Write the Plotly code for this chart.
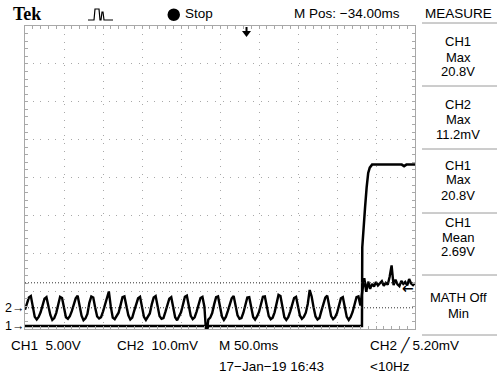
import numpy as np
import plotly.graph_objects as go

# ---------------- data ----------------
time_per_div_ms = 50.0
n_hdiv, n_vdiv = 10, 8
ch1_volts_per_div = 5.0
ch2_mv_per_div = 10.0
ch1_offset_div = -3.92
ch2_offset_div = -3.44
trigger_level_mv = 5.20
trigger_pos_ms = 284.0
ref_line_divs = [-2.78, -3.44]

ch1_time_ms = [0, 120, 233, 234, 235, 300, 432, 432.4, 434, 436, 438, 440, 442, 445, 470, 483, 486, 489, 500]
ch1_volts = [0.0, 0.0, 0.0, -0.3, 0.0, 0.0, 0.0, 10.4, 13.4, 15.7, 18.3, 20.2, 20.9, 21.3, 21.3, 21.3, 21.1, 21.3, 21.3]

ch2_sample_ms = 2.5
ch2_mv = [
    -0.5, 1.2, 2.7, 3.1, 0.4, -2.4, -3.1, -2.4,
    -1.2, 0.9, 2.4, 2.8, 0.1, -1.9, -3.2, -2.7,
    -1.4, 1.1, 2.9, 2.6, -0.2, -2.5, -2.9, -2.2,
    -0.9, 0.6, 2.5, 3.2, 0.6, -2.1, -3.3, -2.8,
    -1.6, 1.3, 3.0, 2.7, 0.0, -2.3, -2.8, -2.5,
    -1.0, 1.0, 2.6, 4.3, 0.3, -2.6, -3.0, -2.3,
    -1.3, 0.7, 2.8, 3.0, 0.5, -2.0, -3.1, -2.6,
    -0.8, 1.2, 2.5, 2.9, -0.1, -2.4, -3.2, -2.3,
    -1.5, 0.9, 2.7, 3.1, 0.2, -2.2, -2.9, -2.7,
    -1.1, 1.0, 2.4, 2.8, 0.4, -2.5, -3.3, -2.4,
    -1.2, 0.8, 2.9, 3.2, 0.1, -2.1, -3.0, -2.5,
    -1.0, 1.1, 2.6, 2.9, 0.3, -7.6, -3.1, -2.6,
    -1.4, 0.9, 2.8, 3.0, 0.0, -2.3, -3.2, -2.4,
    -0.9, 1.2, 2.5, 3.1, 0.5, -2.0, -2.9, -2.7,
    -1.3, 0.7, 2.7, 2.8, 0.2, -2.4, -3.1, -2.3,
    -1.1, 1.0, 2.9, 3.0, -0.1, -2.2, -3.0, -2.6,
    -1.2, 1.3, 3.4, 3.1, 0.3, -2.5, -3.2, -2.5,
    -1.0, 0.8, 2.6, 2.9, 0.4, -2.1, -2.9, -2.4,
    -1.3, 1.0, 4.7, 3.0, 0.1, -2.3, -3.1, -2.7,
    -0.8, 1.1, 2.7, 3.2, 0.2, -2.2, -3.0, -2.5,
    -1.4, 0.9, 2.5, 2.8, 0.5, -2.4, -3.2, -2.4,
    -1.1, 1.2, 2.8, 3.0, 0.6,
    4.5, 7.8, 4.2, 6.9, 5.0, 6.3, 5.6, 6.8, 5.9, 6.4, 7.0, 5.8, 6.6, 6.1,
    8.2, 11.2, 6.0, 7.4, 6.2, 5.7, 7.1, 6.3, 6.8, 5.9, 7.6, 6.4, 6.0, 6.5,
]

measure_labels = [
    ["CH1", "Max", "20.8V"],
    ["CH2", "Max", "11.2mV"],
    ["CH1", "Max", "20.8V"],
    ["CH1", "Mean", "2.69V"],
    ["MATH Off", "Min"],
]

# ---------------- geometry (page pixels) ----------------
W, H = 497, 381
PL, PR, PT, PB = 25, 415, 26, 329


def px(x):
    return (x - PL) / (PR - PL)


def py(y):
    return (PB - y) / (PB - PT)


FONT = "Liberation Sans, Arial, sans-serif"
GRID = "#a8a8a8"

ch1_y = np.array(ch1_volts) / ch1_volts_per_div + ch1_offset_div
ch2_t = np.arange(len(ch2_mv)) * ch2_sample_ms
ch2_y = np.array(ch2_mv) / ch2_mv_per_div + ch2_offset_div

fig = go.Figure()
fig.add_trace(go.Scatter(x=ch2_t, y=ch2_y, mode="lines",
                         line=dict(color="black", width=2.4), hoverinfo="skip"))
fig.add_trace(go.Scatter(x=ch1_time_ms, y=ch1_y, mode="lines",
                         line=dict(color="black", width=2.5), hoverinfo="skip"))

xmax = time_per_div_ms * n_hdiv
fig.update_xaxes(range=[0, xmax], showgrid=True, gridcolor=GRID, griddash="1px,6.8px",
                 dtick=time_per_div_ms, tick0=0, zeroline=False, showticklabels=False,
                 showline=True, linecolor=GRID, linewidth=1, mirror="ticks",
                 ticks="inside", ticklen=3, tickcolor=GRID,
                 minor=dict(dtick=time_per_div_ms / 5, ticks="inside", ticklen=3, tickcolor=GRID))
fig.update_yaxes(range=[-n_vdiv / 2, n_vdiv / 2], showgrid=True, gridcolor=GRID, griddash="1px,6.6px",
                 dtick=1, tick0=0, zeroline=False, showticklabels=False,
                 showline=True, linecolor=GRID, linewidth=1, mirror="ticks",
                 ticks="inside", ticklen=3, tickcolor=GRID,
                 minor=dict(dtick=0.2, ticks="inside", ticklen=3, tickcolor=GRID))

shapes = []
for d in ref_line_divs:
    shapes.append(dict(type="line", xref="x", yref="y", x0=0, x1=xmax, y0=d, y1=d,
                       line=dict(color="#333", width=1, dash="1px,2px")))
# measure panel separators
for ysep in [23, 86, 149, 213, 275, 335]:
    shapes.append(dict(type="line", xref="paper", yref="paper", x0=px(422), x1=px(497),
                       y0=py(ysep), y1=py(ysep), line=dict(color="#9a9a9a", width=1)))
# stop dot
shapes.append(dict(type="circle", xref="paper", yref="paper", x0=px(167.5), x1=px(180),
                   y0=py(21), y1=py(8.5), fillcolor="black", line=dict(color="black", width=0)))
# acquisition icon
icon = [(88, 20), (94, 20), (95, 9), (99, 9), (100, 20), (101, 20), (102, 12), (103, 12), (104, 20), (113, 20)]
path = "M " + " L ".join(f"{px(a)} {py(b)}" for a, b in icon)
shapes.append(dict(type="path", xref="paper", yref="paper", path=path,
                   line=dict(color="black", width=1.2)))
# trigger position arrow (top)
tp = px(PL + (PR - PL) * trigger_pos_ms / xmax)
shapes.append(dict(type="path", xref="paper", yref="paper",
                   path=f"M {tp - 4.5/390} {py(31)} L {tp + 4.5/390} {py(31)} L {tp} {py(37)} Z",
                   fillcolor="black", line=dict(color="black", width=0)))
shapes.append(dict(type="line", xref="paper", yref="paper", x0=tp, x1=tp, y0=py(27), y1=py(32),
                   line=dict(color="black", width=2)))
fig.update_layout(shapes=shapes)

ann = []


def text(x, y, s, size=13, anchor="left", family=FONT, color="black"):
    ann.append(dict(xref="paper", yref="paper", x=px(x), y=py(y), text=s, showarrow=False,
                    xanchor=anchor, yanchor="middle", font=dict(family=family, size=size, color=color)))


text(11, 14, "<b>Tek</b>", size=18, family="Liberation Serif, Times New Roman, serif")
text(183, 14, "Stop", size=13.5)
text(292, 14, "M Pos: \u221234.00ms", size=13.5)
text(458, 14, "MEASURE", anchor="center", size=13.5)

rows = [(42, 57, 72), (104, 119, 134), (165, 180, 195), (222, 237, 252), (297, 313)]
for labels, ys in zip(measure_labels, rows):
    for s, yy in zip(labels, ys):
        text(458, yy, s, anchor="center")

text(9, 346, "CH1  5.00V", size=13.5)
text(115, 346, "CH2  10.0mV", size=13.5)
text(217, 346, "M 50.0ms", size=13.5)
text(368, 346, "CH2 \u2571 5.20mV", size=13.5)
text(217, 366, "17\u2212Jan\u221219 16:43", size=13.5)
text(368, 366, "&lt;10Hz", size=13.5)

# channel ground markers
for lab, off in [("1", ch1_offset_div), ("2", ch2_offset_div)]:
    ann.append(dict(xref="paper", yref="y", x=px(26), y=off, text=lab + "\u2192", showarrow=False,
                    xanchor="right", yanchor="middle", font=dict(family=FONT, size=12.5, color="black")))
# trigger level marker (right)
ann.append(dict(xref="paper", yref="y", x=px(416), y=ch2_offset_div + trigger_level_mv / ch2_mv_per_div,
                text="<b>\u2190</b>", showarrow=False, xanchor="right", yanchor="middle",
                font=dict(family="DejaVu Sans", size=14, color="black")))
fig.update_layout(annotations=ann)

fig.update_layout(width=W, height=H,
                  margin=dict(l=PL, r=W - PR, t=PT, b=H - PB, pad=0),
                  paper_bgcolor="white", plot_bgcolor="white", showlegend=False)
fig.write_html("out.html", config={"displayModeBar": False},
               post_script="document.body.style.margin='0';")
